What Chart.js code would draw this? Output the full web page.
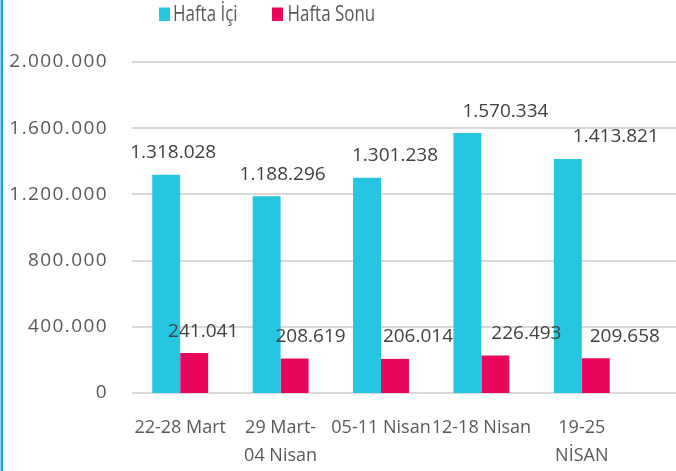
<!DOCTYPE html>
<html>
<head>
<meta charset="utf-8">
<script src="https://cdn.jsdelivr.net/npm/chart.js@4/dist/chart.umd.min.js"></script>
<style>
  html, body { margin: 0; padding: 0; background: #ffffff; }
  #wrap { width: 676px; height: 471px; position: relative; }
</style>
</head>
<body>
<div id="wrap"><canvas id="c"></canvas></div>
<script>
const categories = [['22-28 Mart'], ['29 Mart-', '04 Nisan'], ['05-11 Nisan'], ['12-18 Nisan'], ['19-25', 'NİSAN']];
const seriesNames = ['Hafta İçi', 'Hafta Sonu'];
const haftaIci = [1318028, 1188296, 1301238, 1570334, 1413821];
const haftaSonu = [241041, 208619, 206014, 226493, 209658];
const yTicks = [0, 400000, 800000, 1200000, 1600000, 2000000];

const colors = ['#26C6E3', '#E8075A'];
// manual nudges of the data labels as placed in the reference (pixels)
const labelNudges = [[7, 16, 28, 38, 48], [9, 16, 23, 31, 29]];

function fmt(v) { return String(v).replace(/\B(?=(\d{3})+(?!\d))/g, '.'); }

const FONT = "'Open Sans', 'DejaVu Sans', sans-serif";

const decorPlugin = {
  id: 'decor',
  afterLayout(chart) {
    const ys = chart.scales.y;
    if (!ys._spacedPatch) {
      const orig = ys.drawLabels;
      ys.drawLabels = function (area) {
        const ctx = this.ctx;
        ctx.save();
        ctx.letterSpacing = '1.4px';
        orig.call(this, area);
        ctx.restore();
      };
      ys._spacedPatch = true;
    }
  },
  beforeDatasetsDraw(chart) {
    const ctx = chart.ctx;
    const y = chart.scales.y;
    ctx.save();
    ctx.strokeStyle = '#D9D9D9';
    ctx.lineWidth = 2;
    yTicks.forEach(v => {
      const py = Math.round(y.getPixelForValue(v));
      ctx.beginPath();
      ctx.moveTo(132, py);
      ctx.lineTo(chart.width, py);
      ctx.stroke();
    });
    ctx.restore();
  },
  afterDatasetsDraw(chart) {
    const ctx = chart.ctx;
    ctx.save();
    ctx.font = "19px " + FONT;
    ctx.fillStyle = '#404040';
    ctx.textAlign = 'center';
    ctx.textBaseline = 'middle';
    chart.data.datasets.forEach((ds, di) => {
      const meta = chart.getDatasetMeta(di);
      meta.data.forEach((bar, i) => {
        ctx.fillText(fmt(ds.data[i]), bar.x + labelNudges[di][i], bar.y - 22);
      });
    });
    ctx.restore();
  },
  afterDraw(chart) {
    const ctx = chart.ctx;
    ctx.save();
    // left frame line
    ctx.fillStyle = '#8ED3F2';
    ctx.fillRect(0, 0, 1, chart.height);
    ctx.fillStyle = '#1FA5E0';
    ctx.fillRect(1, 0, 2, chart.height);
    // legend
    const items = [{x: 159, tx: 173}, {x: 272, tx: 287.5}];
    ctx.font = "22px " + FONT;
    ctx.textBaseline = 'middle';
    ctx.textAlign = 'left';
    items.forEach((it, i) => {
      ctx.fillStyle = colors[i];
      ctx.fillRect(it.x, 7.5, 11, 13.5);
      ctx.save();
      ctx.translate(it.tx, 15);
      ctx.scale(0.77, 1);
      ctx.fillStyle = '#595959';
      ctx.fillText(seriesNames[i], 0, 0);
      ctx.restore();
    });
    ctx.restore();
  }
};

new Chart(document.getElementById('c'), {
  type: 'bar',
  data: {
    labels: categories,
    datasets: [
      { label: seriesNames[0], data: haftaIci, backgroundColor: colors[0], borderWidth: 0 },
      { label: seriesNames[1], data: haftaSonu, backgroundColor: colors[1], borderWidth: 0 }
    ]
  },
  options: {
    responsive: true,
    maintainAspectRatio: false,
    animation: false,
    devicePixelRatio: 1,
    layout: { padding: { top: 62, right: 44, left: 0, bottom: 0 } },
    datasets: { bar: { categoryPercentage: 0.557, barPercentage: 1.0 } },
    plugins: {
      legend: { display: false },
      tooltip: { enabled: false }
    },
    scales: {
      x: {
        grid: { display: false, drawTicks: false },
        border: { display: false },
        ticks: {
          color: '#595959',
          font: { family: FONT, size: 18, lineHeight: 1.6 },
          padding: 20,
          maxRotation: 0,
          autoSkip: false
        },
        afterFit(scale) { scale.height = 78; }
      },
      y: {
        min: 0,
        max: 2000000,
        grid: { display: false, drawTicks: false },
        border: { display: false },
        ticks: {
          stepSize: 400000,
          color: '#595959',
          font: { family: FONT, size: 19 },
          padding: 22,
          callback: v => fmt(v)
        },
        afterFit(scale) { scale.width = 130; }
      }
    }
  },
  plugins: [decorPlugin]
});
</script>
</body>
</html>
